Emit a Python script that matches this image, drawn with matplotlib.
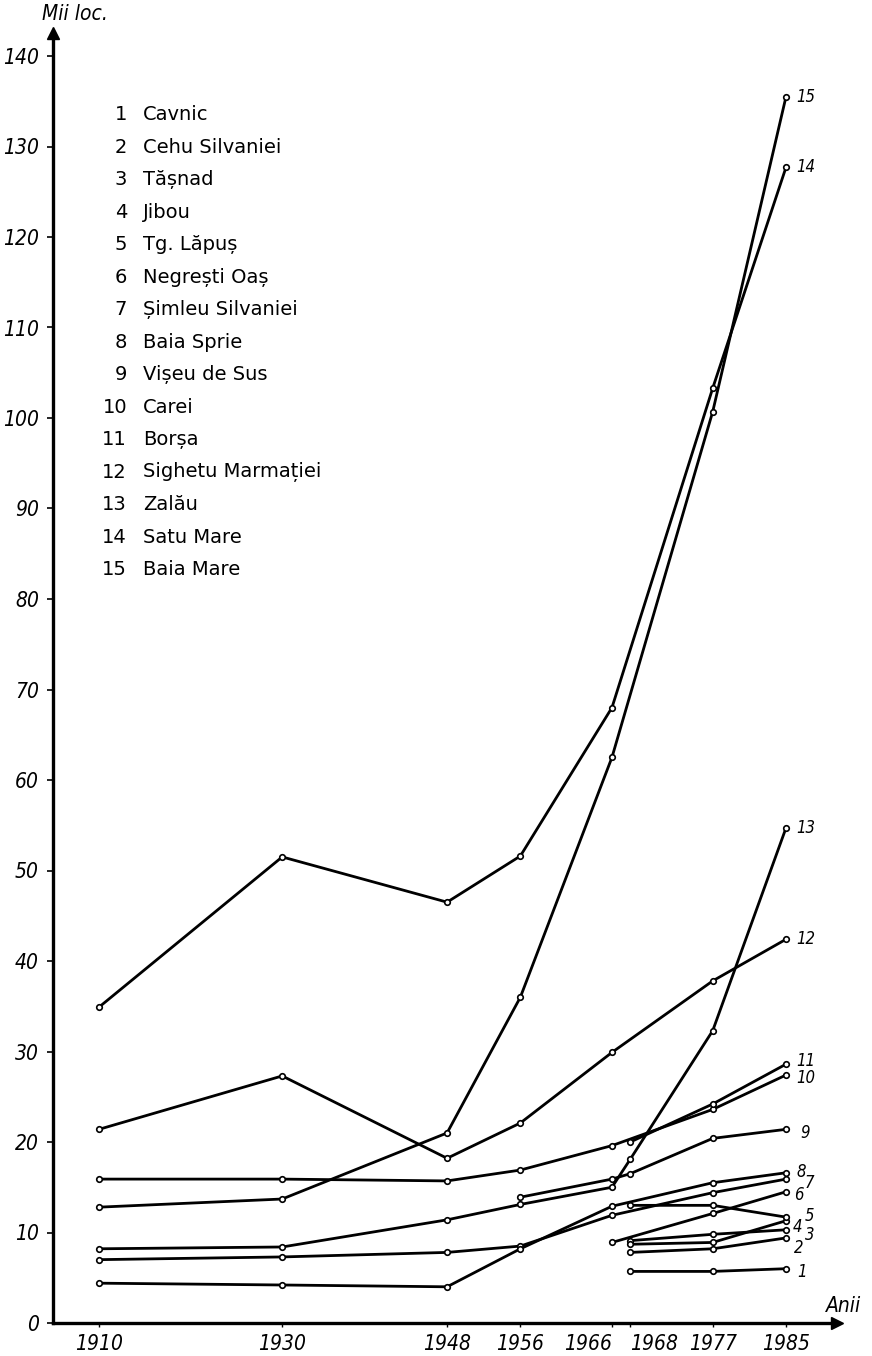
import matplotlib
matplotlib.use("Agg")
import matplotlib.pyplot as plt

# ---------------- data (thousand inhabitants) ----------------
tick_years = [1910, 1930, 1948, 1956, 1966, 1968, 1977, 1985]
y_ticks = list(range(0, 141, 10))

names = ["Cavnic", "Cehu Silvaniei", "Tășnad", "Jibou", "Tg. Lăpuș",
         "Negrești Oaș", "Șimleu Silvaniei", "Baia Sprie", "Vișeu de Sus",
         "Carei", "Borșa", "Sighetu Marmației", "Zalău", "Satu Mare",
         "Baia Mare"]

years_full = [1910, 1930, 1948, 1956, 1966, 1977, 1985]
years_1968 = [1968, 1977, 1985]

cavnic_x, cavnic_y = years_1968, [5.7, 5.7, 6.0]
cehu_x, cehu_y = years_1968, [7.8, 8.2, 9.4]
tasnad_x, tasnad_y = years_1968, [9.1, 9.8, 10.3]
jibou_x, jibou_y = years_1968, [8.7, 8.9, 11.3]
lapus_x, lapus_y = years_1968, [13.0, 13.0, 11.7]
negresti_x, negresti_y = [1966, 1977, 1985], [8.9, 12.1, 14.5]
simleu_x, simleu_y = years_full, [7.0, 7.3, 7.8, 8.5, 11.9, 14.4, 15.9]
sprie_x, sprie_y = years_full, [4.4, 4.2, 4.0, 8.2, 12.9, 15.5, 16.6]
viseu_x, viseu_y = [1956, 1966, 1968, 1977, 1985], [13.9, 15.9, 16.5, 20.4, 21.4]
carei_x, carei_y = years_full, [15.9, 15.9, 15.7, 16.9, 19.6, 23.6, 27.4]
borsa_x, borsa_y = years_1968, [20.0, 24.2, 28.6]
sighet_x, sighet_y = years_full, [21.4, 27.3, 18.2, 22.1, 29.9, 37.8, 42.4]
zalau_x = [1910, 1930, 1948, 1956, 1966, 1968, 1977, 1985]
zalau_y = [8.2, 8.4, 11.4, 13.1, 15.0, 18.1, 32.3, 54.7]
satu_x, satu_y = years_full, [34.9, 51.5, 46.5, 51.6, 68.0, 103.3, 127.7]
baia_x, baia_y = years_full, [12.8, 13.7, 21.0, 36.0, 62.5, 100.7, 135.5]

series = [(cavnic_x, cavnic_y), (cehu_x, cehu_y), (tasnad_x, tasnad_y),
          (jibou_x, jibou_y), (lapus_x, lapus_y), (negresti_x, negresti_y),
          (simleu_x, simleu_y), (sprie_x, sprie_y), (viseu_x, viseu_y),
          (carei_x, carei_y), (borsa_x, borsa_y), (sighet_x, sighet_y),
          (zalau_x, zalau_y), (satu_x, satu_y), (baia_x, baia_y)]

# end-label offsets in pixels (dx, dy)
end_offsets = [(11, -3), (8, -10), (19, -5), (7, -6), (19, 1), (8, -3),
               (19, -4), (10, 1), (14, -4), (10, -3), (10, 3), (10, 0),
               (10, 0), (10, 0), (10, 0)]

# ---------------- figure ----------------
W, H = 872, 1356
fig = plt.figure(figsize=(W / 100, H / 100), dpi=100)
ax_left, ax_right = 53, 837
ax_bottom, ax_top = 1323, 33
ax = fig.add_axes([ax_left / W, (H - ax_bottom) / H,
                   (ax_right - ax_left) / W, (ax_bottom - ax_top) / H])
px_per_year = 9.16
px_per_unit = 9.05
ax.set_xlim(1910 - (99 - ax_left) / px_per_year,
            1910 + (ax_right - 99) / px_per_year)
ax.set_ylim(0, (ax_bottom - ax_top) / px_per_unit)

lab_kw = dict(style="italic", family="DejaVu Sans", stretch="condensed")

for (xs, ys) in series:
    ax.plot(xs, ys, color="black", lw=2.0, marker="o", ms=4.0,
            mfc="white", mec="black", mew=1.2, solid_joinstyle="round",
            clip_on=False, zorder=3)

for i, (xs, ys) in enumerate(series):
    dx, dy = end_offsets[i]
    ax.annotate(str(i + 1), (xs[-1], ys[-1]), xytext=(dx, dy),
                textcoords="offset pixels", ha="left", va="center",
                fontsize=12, **lab_kw)

# axes styling
for s in ["top", "right"]:
    ax.spines[s].set_visible(False)
ax.spines["left"].set_linewidth(2.4)
ax.spines["bottom"].set_linewidth(2.4)
ax.set_xticks(tick_years)
ax.set_xticklabels([str(y) for y in tick_years], fontsize=15, **lab_kw)
ax.set_yticks(y_ticks)
ax.set_yticklabels([str(v) for v in y_ticks], fontsize=15, **lab_kw)
ax.tick_params(axis="y", direction="out", length=4, width=1.2, pad=6)
ax.tick_params(axis="x", direction="out", length=3, width=1.0, pad=5)
# nudge crowded 1966 / 1968 labels apart
xl = ax.get_xticklabels()
xl[4].set_horizontalalignment("right")
xl[4].set_x(1966 + 1.7)
xl[5].set_horizontalalignment("left")
xl[5].set_x(1968 - 0.2)

# arrows at axis ends
ax.plot([0], [1], marker="^", ms=8, color="black", transform=ax.transAxes,
        clip_on=False)
ax.plot([1], [0], marker=">", ms=8, color="black", transform=ax.transAxes,
        clip_on=False)

fig.text(42 / W, 1 - 4 / H, "Mii loc.", fontsize=15, ha="left", va="top",
         **lab_kw)
fig.text(826 / W, 1 - 1312 / H, "Anii", fontsize=15, ha="left",
         va="baseline", **lab_kw)

# legend as text list
num_x = 1910 + (127 - 99) / px_per_year
name_x = 1910 + (143 - 99) / px_per_year
for i, nm in enumerate(names):
    yv = 133.5 - 3.59 * i
    ax.text(num_x, yv, str(i + 1), ha="right", va="center", fontsize=14,
            family="DejaVu Sans")
    ax.text(name_x, yv, nm, ha="left", va="center", fontsize=14,
            family="DejaVu Sans")

fig.savefig("out.png", dpi=100, facecolor="white")
